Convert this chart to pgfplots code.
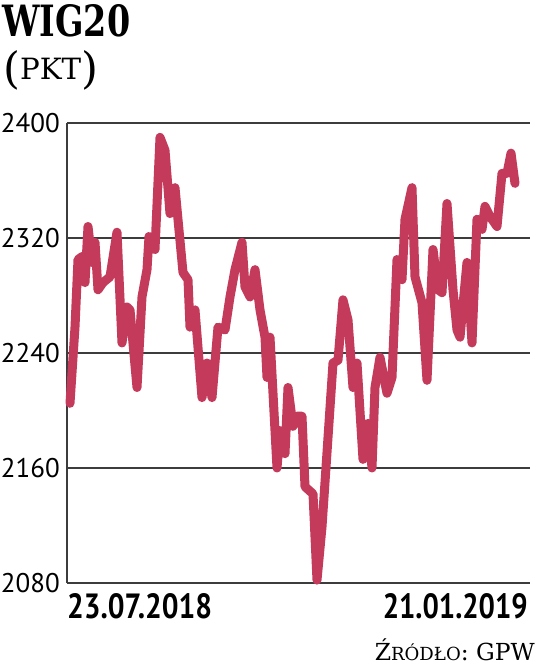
\documentclass[border=0pt]{standalone}
\usepackage{fontspec}
\setmainfont{DejaVu Serif}
\newfontfamily\ptsans{PT Sans}
\usepackage{pgfplots}
\pgfplotsset{compat=1.18}
\definecolor{wig}{RGB}{196,58,90}
\definecolor{gridc}{RGB}{60,60,60}
\begin{document}
\begin{tikzpicture}
\path[use as bounding box] (-67pt,-84pt) rectangle (469pt,583pt);
\begin{axis}[
  scale only axis, width=463pt, height=460pt,
  xmin=67, xmax=530, ymin=2080, ymax=2400,
  axis x line=none, axis y line*=left,
  axis line style={-, gridc, line width=1.4pt},
  ymajorgrids, grid style={gridc, line width=1.4pt},
  xtick=\empty, ytick={2080,2160,2240,2320,2400},
  yticklabels={2080,2160,2240,2320,2400},
  major tick length=0pt,
  yticklabel style={font=\ptsans\fontsize{27}{27}\selectfont, inner sep=0pt, anchor=east, xshift=-7pt},
  clip=false,
]
\addplot[wig, line width=9pt, line join=round, line cap=round] coordinates {
(70,2205) (75,2258) (78,2305) (82,2307) (85,2289) (88,2328) (92,2303) (95,2317)
(98,2284) (103,2289) (110,2293) (117,2324) (122,2247) (127,2272) (130,2270)
(137,2216) (142,2279) (147,2298) (149,2321) (155,2312) (160,2390) (165,2381)
(170,2337) (175,2355) (183,2296) (188,2291) (190,2258) (195,2270) (202,2209)
(207,2233) (212,2209) (218,2258) (225,2256) (230,2279) (235,2298) (242,2317)
(245,2286) (250,2279) (255,2298) (260,2270) (265,2251) (267,2223) (270,2251)
(277,2160) (280,2186) (285,2170) (288,2216) (293,2189) (297,2196) (302,2196)
(305,2147) (313,2142) (317,2082) (322,2119) (333,2233) (338,2235) (343,2277)
(348,2263) (353,2216) (357,2233) (363,2166) (368,2191) (372,2160) (375,2216)
(380,2237) (387,2212) (392,2223) (397,2305) (402,2291) (405,2333) (412,2355)
(415,2293) (422,2275) (427,2221) (433,2312) (438,2284) (442,2282) (447,2344)
(453,2284) (457,2256) (460,2251) (467,2303) (472,2247) (477,2333) (482,2326)
(485,2342) (490,2335) (497,2328) (502,2365) (507,2365) (511,2379) (515,2358)
};
\end{axis}
\node[anchor=base west, inner sep=0pt] at (-65pt,546pt) {\resizebox{128pt}{32pt}{\bfseries WIG20}};
\node[anchor=base west, inner sep=0pt] at (-64pt,503pt) {\resizebox{95pt}{!}{\fontsize{40}{40}\selectfont\raisebox{-3pt}{(}\fontsize{27}{27}\selectfont PKT\fontsize{40}{40}\selectfont\raisebox{-3pt}{)}}};
\node[anchor=base west, inner sep=0pt] at (0pt,-35pt) {\resizebox{145pt}{25pt}{\ptsans\bfseries 23.07.2018}};
\node[anchor=base east, inner sep=0pt] at (461pt,-35pt) {\resizebox{145pt}{25pt}{\ptsans\bfseries 21.01.2019}};
\node[anchor=base east, inner sep=0pt] at (468pt,-77pt) {\resizebox{160pt}{!}{\fontsize{26}{26}\selectfont Ź\fontsize{20}{20}\selectfont RÓDŁO\fontsize{26}{26}\selectfont: GPW}};
\end{tikzpicture}
\end{document}
